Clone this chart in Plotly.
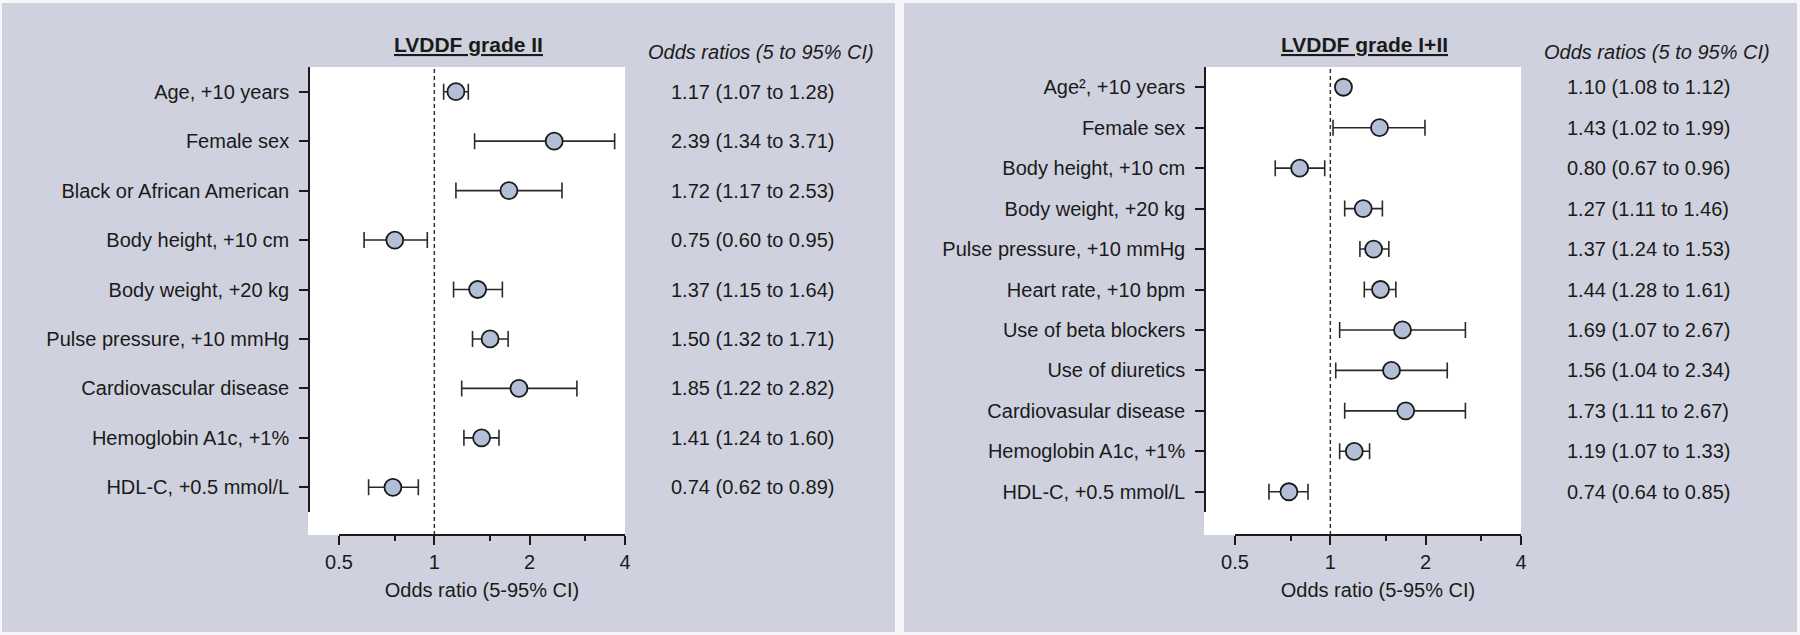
import math

import plotly.graph_objects as go

# ---- data: left panel (LVDDF grade II) ----
left_labels = [
    "Age, +10 years",
    "Female sex",
    "Black or African American",
    "Body height, +10 cm",
    "Body weight, +20 kg",
    "Pulse pressure, +10 mmHg",
    "Cardiovascular disease",
    "Hemoglobin A1c, +1%",
    "HDL-C, +0.5 mmol/L",
]
left_or = [1.17, 2.39, 1.72, 0.75, 1.37, 1.50, 1.85, 1.41, 0.74]
left_lo = [1.07, 1.34, 1.17, 0.60, 1.15, 1.32, 1.22, 1.24, 0.62]
left_hi = [1.28, 3.71, 2.53, 0.95, 1.64, 1.71, 2.82, 1.60, 0.89]

# ---- data: right panel (LVDDF grade I+II) ----
right_labels = [
    "Age², +10 years",
    "Female sex",
    "Body height, +10 cm",
    "Body weight, +20 kg",
    "Pulse pressure, +10 mmHg",
    "Heart rate, +10 bpm",
    "Use of beta blockers",
    "Use of diuretics",
    "Cardiovasular disease",
    "Hemoglobin A1c, +1%",
    "HDL-C, +0.5 mmol/L",
]
right_or = [1.10, 1.43, 0.80, 1.27, 1.37, 1.44, 1.69, 1.56, 1.73, 1.19, 0.74]
right_lo = [1.08, 1.02, 0.67, 1.11, 1.24, 1.28, 1.07, 1.04, 1.11, 1.07, 0.64]
right_hi = [1.12, 1.99, 0.96, 1.46, 1.53, 1.61, 2.67, 2.34, 2.67, 1.33, 0.85]

x_ticks = [0.5, 1, 2, 4]
x_tick_text = ["0.5", "1", "2", "4"]
x_minor = [0.75, 1.5, 3]
x_min, x_max = 0.5, 4

W, H = 1800, 635
panel_bg = "#cfd2de"
outer_bg = "#f6f6f8"
ink = "#1a1a1a"
dot_fill = "#b3bfd6"
FONT = "Arial, Liberation Sans, sans-serif"


def px(x):
    return x / W


def py(y):
    return 1 - y / H


fig = go.Figure()

panels = [
    dict(labels=left_labels, est=left_or, lo=left_lo, hi=left_hi, off=0,
         box=(2, 895), title="LVDDF grade II",
         xa="x", ya="y", xkey="xaxis", ykey="yaxis"),
    dict(labels=right_labels, est=right_or, lo=right_lo, hi=right_hi, off=896,
         box=(904, 1797), title="LVDDF grade I+II",
         xa="x2", ya="y2", xkey="xaxis2", ykey="yaxis2"),
]

shapes = []
annotations = []
layout_axes = {}

# gray panel backgrounds first
for p in panels:
    x0, x1 = p["box"]
    shapes.append(dict(type="rect", xref="paper", yref="paper", layer="below",
                       x0=px(x0), x1=px(x1), y0=py(632), y1=py(3),
                       fillcolor=panel_bg, line_width=0))

for p in panels:
    o = p["off"]
    n = len(p["labels"])
    ys = list(range(n))
    est = p["est"]

    fig.add_trace(go.Scatter(
        x=est, y=ys, mode="markers", xaxis=p["xa"], yaxis=p["ya"],
        marker=dict(size=17, color=dot_fill, line=dict(color=ink, width=1.8)),
        error_x=dict(type="data", symmetric=False,
                     array=[h - e for h, e in zip(p["hi"], est)],
                     arrayminus=[e - l for e, l in zip(est, p["lo"])],
                     color="#2a2a2a", thickness=1.6, width=8),
        showlegend=False, hoverinfo="skip",
    ))

    # white plotting area (a bit wider/taller than the axes)
    shapes.append(dict(type="rect", xref="paper", yref="paper", layer="below",
                       x0=px(308 + o), x1=px(625 + o), y0=py(535), y1=py(67),
                       fillcolor="white", line_width=0))
    # dashed reference line at OR = 1
    ref = (math.log10(1) - math.log10(x_min)) / (math.log10(x_max) - math.log10(x_min))
    shapes.append(dict(type="line", xref=p["xa"] + " domain", yref="paper", layer="below",
                       x0=ref, x1=ref, y0=py(535), y1=py(67),
                       line=dict(color="#333333", width=1.5, dash="4px,3px")))

    layout_axes[p["xkey"]] = dict(
        type="log", range=[math.log10(x_min), math.log10(x_max)],
        domain=[px(339 + o), px(625 + o)], anchor="free", position=py(535),
        automargin=False,
        showline=True, linecolor=ink, linewidth=1.5,
        ticks="outside", ticklen=9, tickwidth=1.5, tickcolor=ink,
        tickvals=x_ticks, ticktext=x_tick_text,
        minor=dict(tickvals=x_minor, ticks="outside", ticklen=5, tickwidth=1.5,
                   tickcolor=ink, showgrid=False),
        showgrid=False, zeroline=False, fixedrange=True,
        tickfont=dict(size=20, color=ink, family=FONT),
        title=dict(text="Odds ratio (5-95% CI)", standoff=10,
                   font=dict(size=20, color=ink, family=FONT)),
    )
    layout_axes[p["ykey"]] = dict(
        range=[n - 0.5, -0.5], domain=[py(512), py(67)],
        anchor="free", position=px(309 + o),
        automargin=False,
        tickvals=ys, ticktext=p["labels"],
        showline=True, linecolor=ink, linewidth=1.5,
        ticks="outside", ticklen=9, tickwidth=1.5, tickcolor=ink,
        ticklabelstandoff=6,
        showgrid=False, zeroline=False, fixedrange=True,
        tickfont=dict(size=20, color=ink, family=FONT),
    )

    # panel title and column header
    annotations.append(dict(xref="paper", yref="paper", x=px(468 + o), y=py(45),
                            text="<b><u>" + p["title"] + "</u></b>", showarrow=False,
                            xanchor="center", yanchor="middle",
                            font=dict(size=21, color=ink, family=FONT)))
    annotations.append(dict(xref="paper", yref="paper", x=px(761 + o), y=py(52),
                            text="<i>Odds ratios (5 to 95% CI)</i>", showarrow=False,
                            xanchor="center", yanchor="middle",
                            font=dict(size=20, color=ink, family=FONT)))
    # odds ratio text column
    for i, (e, l, h) in enumerate(zip(est, p["lo"], p["hi"])):
        annotations.append(dict(xref="paper", yref=p["ya"], x=px(752 + o), y=i,
                                text=f"{e:.2f} ({l:.2f} to {h:.2f})", showarrow=False,
                                xanchor="center", yanchor="middle",
                                font=dict(size=20, color=ink, family=FONT)))

fig.update_layout(
    width=W, height=H,
    margin=dict(l=0, r=0, t=0, b=0, autoexpand=False),
    paper_bgcolor=outer_bg,
    plot_bgcolor="rgba(0,0,0,0)",
    font=dict(family=FONT, size=20, color=ink),
    shapes=shapes,
    annotations=annotations,
    showlegend=False,
    **layout_axes,
)

# pin the page to exactly the figure size (no body margin, no scrollbars)
page_fix = """
var s = document.createElement('style');
s.textContent = 'html,body{margin:0;padding:0;overflow:hidden;width:%dpx;height:%dpx;}';
document.head.appendChild(s);
""" % (W, H)

fig.write_html("out.html", config={"displayModeBar": False}, post_script=page_fix)
